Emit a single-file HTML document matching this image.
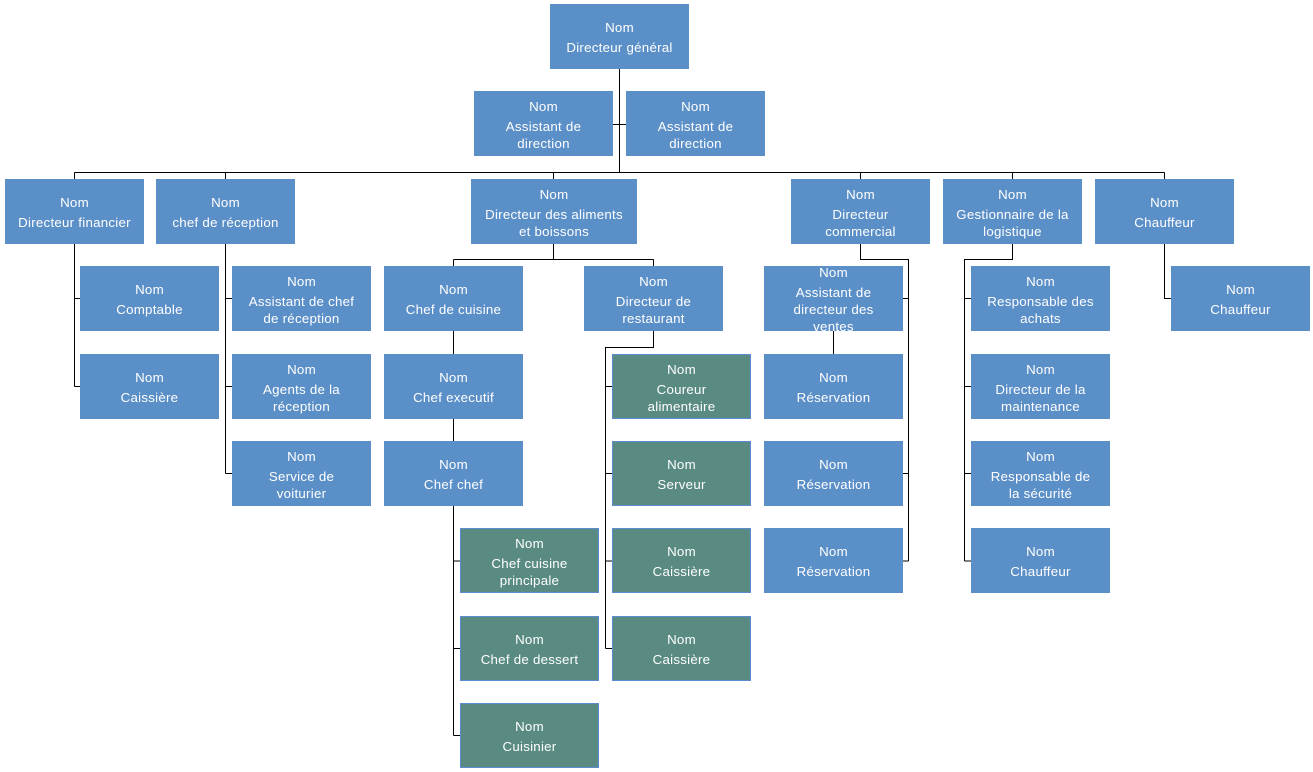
<!DOCTYPE html>
<html><head><meta charset="utf-8">
<style>
html,body{margin:0;padding:0;background:#fff;}
body{width:1313px;height:772px;position:relative;overflow:hidden;font-family:"Liberation Sans",Arial,sans-serif;}
.b{position:absolute;width:139px;height:65px;background:#5b8fc8;color:#fff;display:flex;flex-direction:column;justify-content:center;align-items:center;text-align:center;font-size:13.3px;box-sizing:border-box;padding-top:2px;letter-spacing:0.25px;}
.g{background:#5a8b83;border:1px solid #5b8ed0;}
.b .n{line-height:17px;margin-bottom:3px;}
.b .t{line-height:17px;white-space:nowrap;}
svg{position:absolute;left:0;top:0;}
</style></head><body>
<svg width="1313" height="772" viewBox="0 0 1313 772">
<g stroke="#000" stroke-width="1.3" fill="none" shape-rendering="crispEdges">
<path d="M619.5 69V172.5M613 124.5H626"/>
<path d="M74.5 172.5H1164.5"/>
<path d="M74.5 172.5V179M225.5 172.5V179M553.5 172.5V179M860.5 172.5V179M1012.5 172.5V179M1164.5 172.5V179"/>
<path d="M74.5 244V386.5M74.5 298.5H80M74.5 386.5H80"/>
<path d="M225.5 244V473.5M225.5 298.5H232M225.5 386.5H232M225.5 473.5H232"/>
<path d="M553.5 244V259.5M453.5 259.5H653.5M453.5 259.5V266M653.5 259.5V266"/>
<path d="M453.5 331V354M453.5 419V441M453.5 506V735.5M453.5 561H460M453.5 648.5H460M453.5 735.5H460"/>
<path d="M653.5 331V347.5H605.5V648.5M605.5 386.5H612M605.5 473.5H612M605.5 561H612M605.5 648.5H612"/>
<path d="M860.5 244V259.5H908.5V561M903 298.5H908.5M903 473.5H908.5M903 561H908.5M833.5 331V354"/>
<path d="M1012.5 244V259.5H964.5V561M964.5 298.5H971M964.5 386.5H971M964.5 473.5H971M964.5 561H971"/>
<path d="M1164.5 244V298.5H1171"/>
</g>
</svg>

<div class="b" style="left:550px;top:4px"><div class="n">Nom</div><div class="t">Directeur général</div></div>
<div class="b" style="left:474px;top:91px"><div class="n">Nom</div><div class="t">Assistant de<br>direction</div></div>
<div class="b" style="left:626px;top:91px"><div class="n">Nom</div><div class="t">Assistant de<br>direction</div></div>

<div class="b" style="left:5px;top:179px"><div class="n">Nom</div><div class="t">Directeur financier</div></div>
<div class="b" style="left:156px;top:179px"><div class="n">Nom</div><div class="t">chef de réception</div></div>
<div class="b" style="left:471px;top:179px;width:166px"><div class="n">Nom</div><div class="t">Directeur des aliments<br>et boissons</div></div>
<div class="b" style="left:791px;top:179px"><div class="n">Nom</div><div class="t">Directeur<br>commercial</div></div>
<div class="b" style="left:943px;top:179px"><div class="n">Nom</div><div class="t">Gestionnaire de la<br>logistique</div></div>
<div class="b" style="left:1095px;top:179px"><div class="n">Nom</div><div class="t">Chauffeur</div></div>

<div class="b" style="left:80px;top:266px"><div class="n">Nom</div><div class="t">Comptable</div></div>
<div class="b" style="left:80px;top:354px"><div class="n">Nom</div><div class="t">Caissière</div></div>

<div class="b" style="left:232px;top:266px"><div class="n">Nom</div><div class="t">Assistant de chef<br>de réception</div></div>
<div class="b" style="left:232px;top:354px"><div class="n">Nom</div><div class="t">Agents de la<br>réception</div></div>
<div class="b" style="left:232px;top:441px"><div class="n">Nom</div><div class="t">Service de<br>voiturier</div></div>

<div class="b" style="left:384px;top:266px"><div class="n">Nom</div><div class="t">Chef de cuisine</div></div>
<div class="b" style="left:384px;top:354px"><div class="n">Nom</div><div class="t">Chef executif</div></div>
<div class="b" style="left:384px;top:441px"><div class="n">Nom</div><div class="t">Chef chef</div></div>
<div class="b g" style="left:460px;top:528px"><div class="n">Nom</div><div class="t">Chef cuisine<br>principale</div></div>
<div class="b g" style="left:460px;top:616px"><div class="n">Nom</div><div class="t">Chef de dessert</div></div>
<div class="b g" style="left:460px;top:703px"><div class="n">Nom</div><div class="t">Cuisinier</div></div>

<div class="b" style="left:584px;top:266px"><div class="n">Nom</div><div class="t">Directeur de<br>restaurant</div></div>
<div class="b g" style="left:612px;top:354px"><div class="n">Nom</div><div class="t">Coureur<br>alimentaire</div></div>
<div class="b g" style="left:612px;top:441px"><div class="n">Nom</div><div class="t">Serveur</div></div>
<div class="b g" style="left:612px;top:528px"><div class="n">Nom</div><div class="t">Caissière</div></div>
<div class="b g" style="left:612px;top:616px"><div class="n">Nom</div><div class="t">Caissière</div></div>

<div class="b" style="left:764px;top:266px"><div class="n">Nom</div><div class="t">Assistant de<br>directeur des<br>ventes</div></div>
<div class="b" style="left:764px;top:354px"><div class="n">Nom</div><div class="t">Réservation</div></div>
<div class="b" style="left:764px;top:441px"><div class="n">Nom</div><div class="t">Réservation</div></div>
<div class="b" style="left:764px;top:528px"><div class="n">Nom</div><div class="t">Réservation</div></div>

<div class="b" style="left:971px;top:266px"><div class="n">Nom</div><div class="t">Responsable des<br>achats</div></div>
<div class="b" style="left:971px;top:354px"><div class="n">Nom</div><div class="t">Directeur de la<br>maintenance</div></div>
<div class="b" style="left:971px;top:441px"><div class="n">Nom</div><div class="t">Responsable de<br>la sécurité</div></div>
<div class="b" style="left:971px;top:528px"><div class="n">Nom</div><div class="t">Chauffeur</div></div>

<div class="b" style="left:1171px;top:266px"><div class="n">Nom</div><div class="t">Chauffeur</div></div>
</body></html>
